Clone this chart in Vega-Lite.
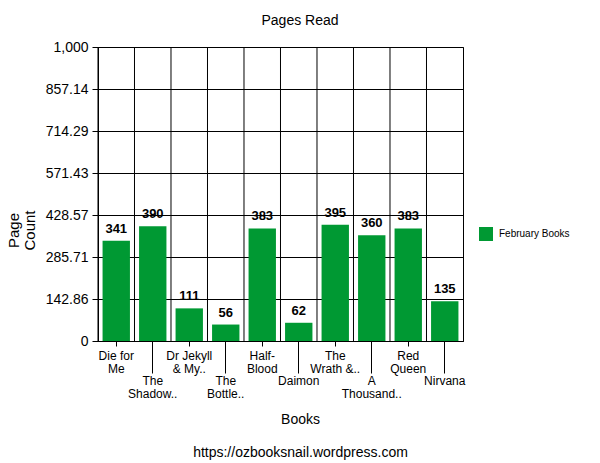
{
  "$schema": "https://vega.github.io/schema/vega-lite/v6.json",
  "description": "Pages read per book, February",
  "width": 365,
  "height": 294,
  "autosize": {"type": "none"},
  "padding": {"left": 98, "top": 47, "right": 137, "bottom": 122},
  "config": {
    "font": "Liberation Sans",
    "view": {"stroke": "black", "strokeWidth": 1}
  },
  "title": {
    "text": "Pages Read",
    "fontSize": 14,
    "fontWeight": "normal",
    "color": "black",
    "anchor": "middle",
    "frame": "group",
    "baseline": "alphabetic",
    "dx": 19.5,
    "offset": 1.5
  },
  "data": {
    "values": [
      {"Book": "Die for Me", "Pages": 341, "Series": "February Books"},
      {"Book": "The Shadow..", "Pages": 390, "Series": "February Books"},
      {"Book": "Dr Jekyll & My..", "Pages": 111, "Series": "February Books"},
      {"Book": "The Bottle..", "Pages": 56, "Series": "February Books"},
      {"Book": "Half-Blood", "Pages": 383, "Series": "February Books"},
      {"Book": "Daimon", "Pages": 62, "Series": "February Books"},
      {"Book": "The Wrath &..", "Pages": 395, "Series": "February Books"},
      {"Book": "A Thousand..", "Pages": 360, "Series": "February Books"},
      {"Book": "Red Queen", "Pages": 383, "Series": "February Books"},
      {"Book": "Nirvana", "Pages": 135, "Series": "February Books"}
    ]
  },
  "encoding": {
    "x": {
      "field": "Book",
      "type": "nominal",
      "sort": null,
      "scale": {"paddingInner": 0.25, "paddingOuter": 0.125},
      "axis": {
        "title": ["Books", "https://ozbooksnail.wordpress.com"],
        "titleFontSize": 14,
        "titleFontWeight": "normal",
        "titleColor": "black",
        "titleX": 202,
        "titleY": 82,
        "titleAlign": "center",
        "titleBaseline": "alphabetic",
        "titleLineHeight": 33,
        "labelAngle": 0,
        "labelFontSize": 12,
        "labelColor": "black",
        "labelLineHeight": 13,
        "labelBaseline": "top",
        "labelOverlap": false,
        "labelExpr": "{'Die for Me': ['Die for', 'Me'], 'The Shadow..': ['The', 'Shadow..'], 'Dr Jekyll & My..': ['Dr Jekyll', '& My..'], 'The Bottle..': ['The', 'Bottle..'], 'Half-Blood': ['Half-', 'Blood'], 'Daimon': 'Daimon', 'The Wrath &..': ['The', 'Wrath &..'], 'A Thousand..': ['A', 'Thousand..'], 'Red Queen': ['Red', 'Queen'], 'Nirvana': 'Nirvana'}[datum.value]",
        "labelPadding": {
          "condition": {"test": "indexof(['The Shadow..', 'The Bottle..', 'Daimon', 'A Thousand..', 'Nirvana'], datum.value) >= 0", "value": 2.7},
          "value": 4.4
        },
        "tickSize": {
          "condition": {"test": "indexof(['The Shadow..', 'The Bottle..', 'Daimon', 'A Thousand..', 'Nirvana'], datum.value) >= 0", "value": 32},
          "value": 5
        },
        "tickColor": "black",
        "domainColor": "black",
        "grid": false
      }
    }
  },
  "layer": [
    {
      "mark": {"type": "rule", "color": "black", "strokeWidth": 1},
      "encoding": {
        "x": {"field": "Book", "type": "nominal", "sort": null, "bandPosition": -0.16667}
      }
    },
    {
      "mark": {"type": "bar"},
      "encoding": {
        "y": {
          "field": "Pages",
          "type": "quantitative",
          "scale": {"domain": [0, 1000], "nice": false},
          "axis": {
            "title": ["Page", "Count"],
            "titleFontSize": 15,
            "titleFontWeight": "normal",
            "titleColor": "black",
            "titleAngle": -90,
            "titleX": -79.5,
            "titleY": 183,
            "titleAlign": "center",
            "titleBaseline": "alphabetic",
            "titleLineHeight": 15.5,
            "values": [0, 71.428571, 142.857143, 214.285714, 285.714286, 357.142857, 428.571429, 500, 571.428571, 642.857143, 714.285714, 785.714286, 857.142857, 928.571429, 1000],
            "labelExpr": "round(datum.value * 14 / 1000) % 2 == 0 ? format(datum.value, ',.2~f') : ''",
            "labelFontSize": 14,
            "labelColor": "black",
            "labelPadding": 4,
            "labelOverlap": false,
            "tickSize": {
              "condition": {"test": "round(datum.value * 14 / 1000) % 2 == 0", "value": 6},
              "value": 0
            },
            "tickColor": "black",
            "domainColor": "black",
            "grid": true,
            "gridColor": {
              "condition": {"test": "round(datum.value * 14 / 1000) % 2 == 0", "value": "black"},
              "value": "#b3b3b3"
            },
            "gridOpacity": 1,
            "gridWidth": 1
          }
        },
        "color": {
          "field": "Series",
          "type": "nominal",
          "scale": {"range": ["#009933"]},
          "legend": {
            "title": null,
            "orient": "none",
            "legendX": 381,
            "legendY": 180,
            "padding": 0,
            "symbolType": "square",
            "symbolSize": 196,
            "symbolStrokeWidth": 0,
            "labelFontSize": 10,
            "labelColor": "black",
            "labelOffset": 6
          }
        }
      }
    },
    {
      "mark": {
        "type": "text",
        "fontSize": 13,
        "fontWeight": "bold",
        "color": "black",
        "baseline": "alphabetic",
        "dy": -8
      },
      "encoding": {
        "y": {"field": "Pages", "type": "quantitative"},
        "text": {"field": "Pages", "type": "quantitative"}
      }
    }
  ]
}
